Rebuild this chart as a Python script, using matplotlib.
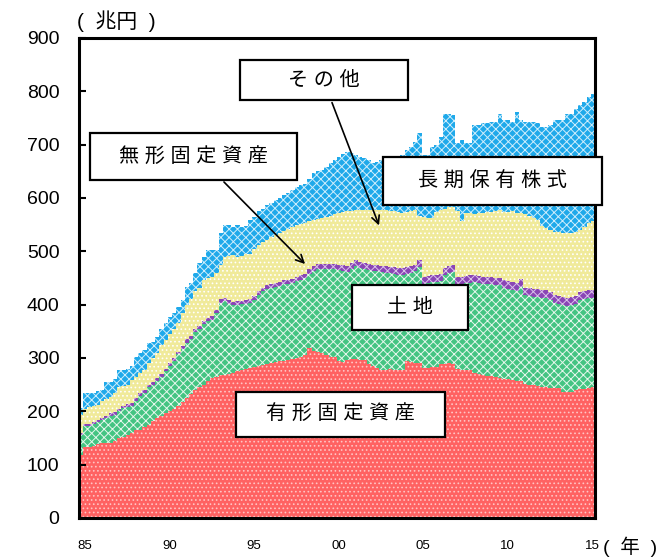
import numpy as np
import matplotlib

matplotlib.use("Agg")
import matplotlib.pyplot as plt
from matplotlib.patches import Rectangle

plt.rcParams["font.family"] = ["Liberation Sans", "Noto Sans CJK JP"]
plt.rcParams["hatch.linewidth"] = 0.7

# quarterly, 1985Q1 .. 2015Q2 (trillion yen)
tangible = [
    118, 133, 133, 135, 138, 140, 141, 141, 145, 150, 152, 155,
    160, 165, 165, 170, 175, 182, 188, 192, 196, 200, 205, 210,
    218, 225, 232, 240, 245, 250, 256, 262, 265, 268, 268, 270,
    272, 275, 278, 280, 282, 284, 285, 287, 288, 290, 292, 294,
    295, 296, 298, 300, 302, 305, 318, 314, 312, 310, 306, 302,
    302, 294, 293, 297, 298, 299, 297, 296, 288, 285, 281, 278,
    278, 279, 277, 278, 278, 294, 293, 291, 290, 282, 281, 283,
    284, 289, 289, 290, 288, 279, 278, 278, 277, 272, 270, 268,
    267, 266, 265, 262, 261, 260, 258, 257, 256, 252, 250, 249,
    248, 246, 245, 244, 244, 243, 237, 236, 236, 240, 241, 242,
    244, 246,
]
land = [
    38, 39, 40, 41, 42, 44, 47, 51, 49, 51, 54, 54,
    50, 55, 64, 65, 70, 68, 69, 73, 79, 85, 90, 97,
    98, 104, 104, 109, 109, 114, 113, 110, 119, 136, 138, 132,
    127, 125, 123, 122, 121, 125, 133, 138, 141, 141, 141, 141,
    143, 143, 143, 144, 145, 145, 140, 150, 154, 157, 161, 165,
    164, 171, 171, 165, 169, 174, 172, 171, 177, 179, 182, 184,
    182, 180, 181, 178, 178, 164, 167, 172, 181, 157, 159, 159,
    158, 156, 166, 169, 173, 160, 160, 162, 164, 170, 170, 170,
    171, 172, 171, 174, 171, 170, 170, 169, 178, 166, 166, 166,
    167, 167, 168, 165, 159, 158, 162, 161, 163, 161, 168, 169,
    168, 167,
]
intangible = [
    4, 4, 4, 4, 4, 4, 4, 4, 4, 4, 4, 4,
    5, 5, 5, 5, 5, 5, 5, 5, 5, 5, 5, 5,
    6, 6, 6, 6, 6, 6, 6, 6, 6, 6, 6, 6,
    6, 6, 6, 6, 7, 7, 7, 7, 7, 7, 7, 7,
    8, 8, 8, 8, 8, 8, 8, 8, 10, 10, 10, 10,
    10, 10, 10, 10, 11, 11, 11, 11, 11, 11, 11, 11,
    12, 12, 12, 12, 12, 12, 12, 12, 13, 13, 13, 13,
    13, 13, 13, 13, 13, 13, 14, 14, 14, 14, 14, 14,
    14, 14, 14, 14, 14, 14, 14, 14, 14, 14, 15, 15,
    15, 15, 15, 15, 15, 15, 15, 15, 15, 15, 15, 15,
    15, 15,
]
stocks = [
    33, 29, 32, 30, 28, 32, 32, 31, 37, 41, 38, 37,
    43, 40, 37, 38, 40, 45, 48, 55, 54, 55, 55, 53,
    63, 65, 68, 70, 72, 76, 75, 74, 70, 65, 78, 84,
    88, 84, 85, 87, 85, 89, 87, 86, 86, 88, 90, 92,
    92, 94, 96, 97, 96, 96, 90, 86, 84, 85, 88, 90,
    94, 97, 100, 103, 98, 93, 97, 99, 101, 102, 103, 104,
    105, 105, 105, 106, 104, 103, 103, 102, 82, 112, 109, 108,
    119, 120, 112, 111, 109, 124, 104, 118, 117, 114, 118, 120,
    122, 122, 125, 128, 128, 130, 133, 132, 124, 138, 135, 132,
    128, 120, 116, 116, 119, 120, 120, 122, 121, 120, 116, 120,
    126, 128,
]
other = [
    13, 29, 25, 24, 26, 20, 31, 28, 25, 31, 29, 30,
    27, 37, 39, 37, 38, 30, 30, 30, 31, 32, 30, 30,
    23, 34, 30, 35, 46, 44, 52, 50, 42, 59, 59, 57,
    53, 59, 53, 53, 63, 60, 63, 62, 64, 64, 66, 66,
    67, 68, 70, 71, 73, 73, 79, 88, 90, 90, 94, 98,
    101, 105, 108, 111, 108, 103, 100, 98, 94, 88, 91, 94,
    94, 96, 100, 103, 108, 117, 121, 128, 155, 117, 119, 133,
    126, 137, 178, 175, 172, 127, 153, 131, 131, 167, 165, 168,
    166, 168, 167, 180, 172, 172, 168, 189, 174, 173, 177, 181,
    182, 186, 190, 197, 209, 210, 212, 224, 223, 230, 234, 234,
    237, 239,
]

series_names = ["有形固定資産", "土地", "無形固定資産", "長期保有株式", "その他"]
year_labels = ["85", "90", "95", "00", "05", "10", "15"]

# face colour, hatch colour, hatch pattern
STYLES = [
    ("#FF6262", "#FFC4C4", "...."),
    ("#44C482", "#E6F7EC", "xxxx"),
    ("#8A45B5", "#D9C2EA", "xxxx"),
    ("#F0EA9A", "#FFFFFF", "...."),
    ("#1FA9EA", "#CFEEFC", "xxxx"),
]

layers = [tangible, land, intangible, stocks, other]
n = len(tangible)
edges = np.arange(n + 1) - 0.5

fig = plt.figure(figsize=(6.66, 5.6), dpi=100)
ax = fig.add_axes([79 / 666, 42 / 560, 516 / 666, 480 / 560])

base = np.zeros(n)
for vals, (fc, hc, hatch) in zip(layers, STYLES):
    top = base + np.array(vals, dtype=float)
    ax.fill_between(
        edges,
        np.append(base, base[-1]),
        np.append(top, top[-1]),
        step="post",
        facecolor=fc,
        edgecolor=hc,
        hatch=hatch,
        linewidth=0,
    )
    base = top

ax.set_xlim(-0.5, n - 0.5)
ax.set_ylim(0, 900)
ax.set_yticks(np.arange(0, 901, 100))
ax.set_xticks(np.arange(len(year_labels)) * 20 + 0.9)
ax.set_xticklabels(year_labels, fontsize=9.5)
ax.tick_params(axis="y", direction="in", length=5, width=1.5, labelsize=14, pad=14)
ax.tick_params(axis="x", length=0, pad=16)
for sp in ax.spines.values():
    sp.set_linewidth(2.2)


def label_box(x0, x1, y0, y1, text):
    ax.add_patch(
        Rectangle(
            (x0, y0), x1 - x0, y1 - y0,
            transform=ax.transAxes, facecolor="white", edgecolor="black",
            linewidth=1.6, clip_on=False, zorder=5,
        )
    )
    ax.text(
        (x0 + x1) / 2, (y0 + y1) / 2, text, transform=ax.transAxes,
        ha="center", va="center", fontsize=14.5, zorder=6,
    )


def px(x, y):
    # pixel position of the reference -> axes fraction
    return (x - 79) / 516, (518 - y) / 480


boxes = [
    (240, 408, 60, 100, series_names[4]),
    (90, 297, 133, 180, series_names[2]),
    (383, 602, 157, 205, series_names[3]),
    (352, 468, 285, 330, series_names[1]),
    (236, 445, 392, 437, series_names[0]),
]
for x0, x1, ty, by, txt in boxes:
    ax0, ay1 = px(x0, ty)
    ax1, ay0 = px(x1, by)
    label_box(ax0, ax1, ay0, ay1, " ".join(txt))

arrows = [((331, 100), (380, 228)), ((222, 180), (307, 266))]
for start, end in arrows:
    ax.annotate(
        "", xy=px(*end), xycoords="axes fraction",
        xytext=px(*start), textcoords="axes fraction",
        arrowprops=dict(arrowstyle="->", color="black", lw=1.2, mutation_scale=14),
        zorder=7,
    )

fig.text(116 / 666, 1 - 21 / 560, "(  兆円  )", ha="center", va="center", fontsize=15)
fig.text(630 / 666, 1 - 547 / 560, "(  年  )", ha="center", va="center", fontsize=14)

fig.savefig("out.png", dpi=100)
